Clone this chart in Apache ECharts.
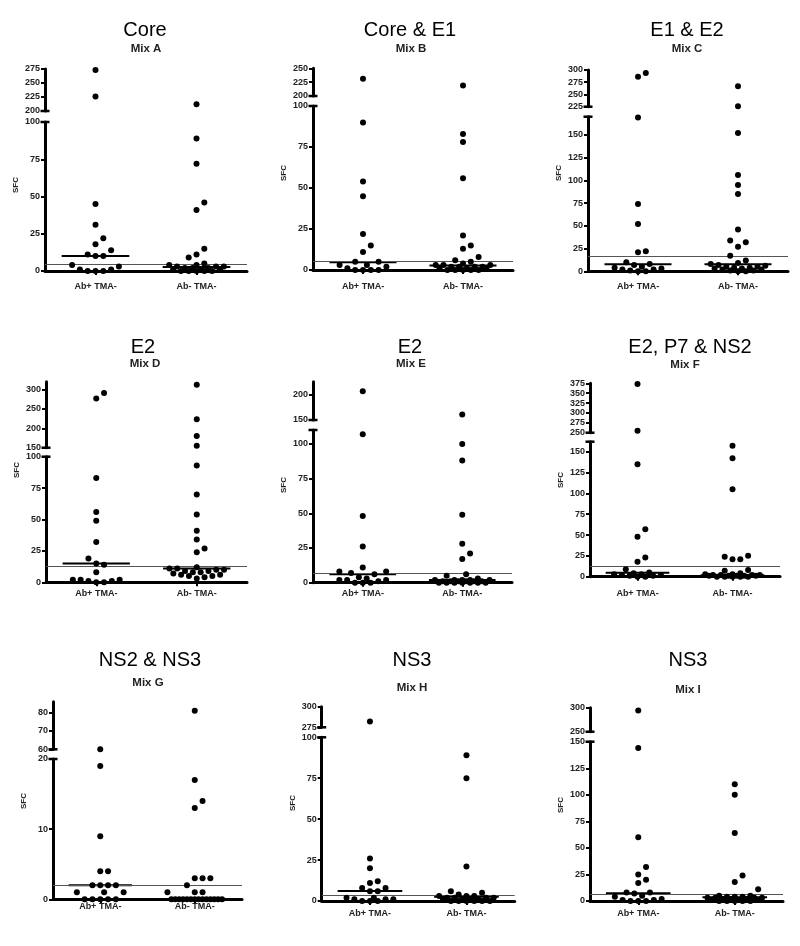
<!DOCTYPE html>
<html><head><meta charset="utf-8">
<script src="https://cdn.jsdelivr.net/npm/echarts@6/dist/echarts.min.js"></script>
<style>html,body{margin:0;padding:0;background:#fff}#c{width:800px;height:946px}</style>
</head><body><div id="c"></div>
<script>
// ---------------- DATA ----------------
const categories = ['Ab+ TMA-', 'Ab- TMA-'];
const panelTitles = ['Core', 'Core & E1', 'E1 & E2', 'E2', 'E2', 'E2, P7 & NS2', 'NS2 & NS3', 'NS3', 'NS3'];
const mixLabels = ['Mix A', 'Mix B', 'Mix C', 'Mix D', 'Mix E', 'Mix F', 'Mix G', 'Mix H', 'Mix I'];
const yAxisName = 'SFC';

const abPosA = [273, 226, 45, 31, 22, 18, 14, 11, 10, 10, 4, 3, 1, 1, 0, 0, 0];
const abNegA = [212, 89, 72, 46, 41, 15, 11, 9, 5, 4, 4, 3, 3, 3, 2, 2, 2, 1, 1, 1, 0, 0, 0, 0, 0];
const abPosB = [231, 90, 54, 45, 22, 15, 11, 5, 5, 3, 3, 2, 1, 0, 0, 0, 0];
const abNegB = [219, 83, 78, 56, 21, 15, 13, 8, 6, 5, 4, 3, 3, 3, 2, 2, 2, 2, 1, 1, 1, 0, 0, 0, 0, 0];
const abPosC = [294, 286, 169, 74, 52, 22, 21, 10, 8, 7, 5, 4, 3, 2, 2, 1, 0, 0];
const abNegC = [267, 226, 152, 106, 95, 85, 46, 34, 32, 27, 17, 12, 9, 8, 7, 6, 5, 5, 4, 4, 3, 3, 2, 2, 1, 1, 0, 0];
const abPosD = [291, 277, 83, 56, 49, 32, 19, 15, 14, 8, 2, 2, 2, 1, 1, 0, 0];
const abNegD = [312, 223, 180, 155, 93, 70, 54, 41, 34, 27, 24, 12, 11, 11, 10, 10, 9, 9, 8, 8, 7, 6, 6, 5, 5, 4, 3];
const abPosE = [207, 107, 48, 26, 11, 8, 8, 7, 6, 4, 3, 2, 2, 2, 1, 0, 0, 0];
const abNegE = [161, 100, 88, 49, 28, 21, 17, 6, 5, 3, 2, 2, 2, 2, 2, 1, 1, 1, 1, 1, 1, 0, 0, 0, 0, 0, 0, 0];
const abPosF = [373, 255, 135, 57, 48, 23, 18, 9, 5, 4, 3, 3, 2, 2, 1, 1, 0, 0];
const abNegF = [157, 142, 105, 25, 24, 21, 21, 8, 7, 4, 3, 3, 2, 2, 2, 2, 1, 1, 1, 1, 1, 0, 0, 0, 0, 0];
const abPosG = [60, 19, 9, 4, 4, 2, 2, 2, 2, 1, 1, 1, 0, 0, 0, 0, 0];
const abNegG = [81, 17, 14, 13, 3, 3, 3, 2, 1, 1, 1, 0, 0, 0, 0, 0, 0, 0, 0, 0, 0, 0, 0, 0, 0];
const abPosH = [282, 26, 20, 12, 11, 8, 8, 6, 6, 2, 2, 1, 1, 1, 0, 0, 0];
const abNegH = [89, 75, 21, 6, 5, 4, 3, 3, 3, 2, 2, 2, 2, 1, 1, 1, 1, 0, 0, 0, 0, 0, 0];
const abPosI = [294, 144, 60, 32, 25, 20, 17, 8, 8, 7, 5, 4, 2, 1, 1, 0, 0, 0];
const abNegI = [110, 100, 64, 24, 18, 11, 5, 5, 4, 4, 4, 3, 3, 3, 3, 2, 2, 2, 1, 1, 1, 0, 0, 0, 0, 0];

const abPos = [abPosA, abPosB, abPosC, abPosD, abPosE, abPosF, abPosG, abPosH, abPosI];
const abNeg = [abNegA, abNegB, abNegC, abNegD, abNegE, abNegF, abNegG, abNegH, abNegI];

// medians [Ab+, Ab-] and threshold line per panel
const medians = [[10, 2.7], [4.7, 2.8], [7.7, 7.7], [15, 11], [6, 2], [4.8, 1.6], [2, 0], [6.1, 2.6], [7.2, 3.5]];
const thresholds = [4.5, 5.1, 16.5, 13, 6.7, 12, 2, 3.3, 6.3];

// broken y axis: lower segment [0, max], upper segment [min, max]
const lowerMax = [100, 100, 170, 100, 110, 162, 20, 100, 150];
const upperRange = [[200, 275], [200, 250], [225, 300], [150, 320], [150, 226], [250, 375], [60, 86], [275, 300], [250, 300]];
const lowerTicks = [
  [0, 25, 50, 75, 100], [0, 25, 50, 75, 100], [0, 25, 50, 75, 100, 125, 150],
  [0, 25, 50, 75, 100], [0, 25, 50, 75, 100], [0, 25, 50, 75, 100, 125, 150],
  [0, 10, 20], [0, 25, 50, 75, 100], [0, 25, 50, 75, 100, 125, 150]
];
const upperTicks = [
  [200, 225, 250, 275], [200, 225, 250], [225, 250, 275, 300],
  [150, 200, 250, 300], [150, 200], [250, 275, 300, 325, 350, 375],
  [60, 70, 80], [275, 300], [250, 300]
];

// ---------------- LAYOUT (pixels) ----------------
const layout = [
  {left: 45,  width: 202, up: [69, 111],    lo: [122, 271],   title: [145, 30],  mix: [146, 49],  sfcY: 185, labelY: 287},
  {left: 313, width: 200, up: [68.3, 96],   lo: [106, 270],   title: [410, 30],  mix: [411, 49],  sfcY: 173, labelY: 287},
  {left: 588, width: 200, up: [70, 106.7],  lo: [116.7, 271.3], title: [687, 30], mix: [687, 49], sfcY: 173, labelY: 287},
  {left: 46,  width: 201, up: [381.7, 447.7], lo: [456.7, 582.3], title: [143, 347], mix: [145, 364], sfcY: 470, labelY: 594},
  {left: 313, width: 199, up: [381.7, 420], lo: [430, 582.7], title: [410, 347], mix: [411, 364], sfcY: 485, labelY: 594},
  {left: 590, width: 190, up: [383.3, 432.7], lo: [441.7, 576.7], title: [690, 347], mix: [685, 365], sfcY: 480, labelY: 594},
  {left: 53,  width: 189, up: [701.7, 749.3], lo: [759, 899.3], title: [150, 660], mix: [148, 683], sfcY: 801, labelY: 907},
  {left: 321.7, width: 193, up: [706.7, 727.3], lo: [737.3, 901], title: [412, 660], mix: [412, 688], sfcY: 803, labelY: 914},
  {left: 590, width: 193, up: [707.7, 731.7], lo: [741.7, 901], title: [688, 660], mix: [688, 690], sfcY: 805, labelY: 914}
];
const FONT = '"Liberation Sans", Arial, Helvetica, sans-serif';
const DOT = 6, DOT_GAP = 7.8, MAX_HALF = 31, MEDIAN_HALF = 0.335;

// ---------------- OPTION ----------------
const chart = echarts.init(document.getElementById('c'), null, {renderer: 'canvas'});
const option = {
  animation: false,
  backgroundColor: '#fff',
  textStyle: {fontFamily: FONT},
  grid: [], xAxis: [], yAxis: [], series: [], graphic: []
};

function yAxisCommon(ticks) {
  return {
    type: 'value', splitLine: {show: false},
    axisTick: {show: true, customValues: ticks, length: 4, inside: false, lineStyle: {color: '#000', width: 2}},
    axisLabel: {show: true, customValues: ticks, margin: 5, fontSize: 9, fontWeight: 'bold', color: '#222', fontFamily: FONT}
  };
}

const scatterIdx = [];
layout.forEach((L, i) => {
  const gUp = 2 * i, gLo = 2 * i + 1;
  option.grid.push({left: L.left, top: L.up[0], width: L.width, height: L.up[1] - L.up[0]});
  option.grid.push({left: L.left, top: L.lo[0], width: L.width, height: L.lo[1] - L.lo[0]});
  option.xAxis.push({gridIndex: gUp, type: 'value', min: 0, max: 2, show: false});
  option.xAxis.push({
    gridIndex: gLo, type: 'value', min: 0, max: 2, splitLine: {show: false},
    axisLine: {show: true, onZero: false, lineStyle: {color: '#000', width: 3}},
    axisTick: {show: true, customValues: [0.5, 1.5], length: 4, lineStyle: {color: '#000', width: 2}},
    axisLabel: {show: true, customValues: [0.5, 1.5], formatter: v => categories[Math.floor(v)],
      margin: L.labelY - L.lo[1] - 4.5, fontSize: 9, fontWeight: 'bold', color: '#222', fontFamily: FONT}
  });
  option.yAxis.push(Object.assign(yAxisCommon(upperTicks[i]), {
    gridIndex: gUp, min: upperRange[i][0], max: upperRange[i][1],
    axisLine: {show: true, onZero: false, symbol: ['rect', 'none'], symbolSize: [9, 2.5], lineStyle: {color: '#000', width: 3}}
  }));
  option.yAxis.push(Object.assign(yAxisCommon(lowerTicks[i]), {
    gridIndex: gLo, min: 0, max: lowerMax[i],
    axisLine: {show: true, onZero: false, symbol: ['none', 'rect'], symbolSize: [9, 2.5], lineStyle: {color: '#000', width: 3}}
  }));

  const up = [], lo = [];
  [abPos[i], abNeg[i]].forEach((vals, gi) => {
    vals.forEach(v => (v > lowerMax[i] ? up : lo).push([gi + 0.5, v]));
  });
  scatterIdx.push(option.series.length);
  option.series.push({type: 'scatter', xAxisIndex: gUp, yAxisIndex: gUp, data: up, symbolSize: DOT,
    itemStyle: {color: '#000', opacity: 1}, silent: true, z: 5});
  option.series.push({type: 'scatter', xAxisIndex: gLo, yAxisIndex: gLo, data: lo, symbolSize: DOT,
    itemStyle: {color: '#000', opacity: 1}, silent: true, z: 5,
    markLine: {silent: true, symbol: ['none', 'none'], label: {show: false}, animation: false,
      lineStyle: {color: '#555', width: 1, type: 'solid'}, data: [{yAxis: thresholds[i]}]}});
  medians[i].forEach((m, gi) => {
    option.series.push({type: 'line', xAxisIndex: gLo, yAxisIndex: gLo, symbol: 'none', silent: true, z: 4,
      lineStyle: {color: '#000', width: 2},
      data: [[gi + 0.5 - MEDIAN_HALF, m], [gi + 0.5 + MEDIAN_HALF, m]]});
  });

  option.graphic.push({type: 'text', x: L.title[0], y: L.title[1], silent: true,
    style: {text: panelTitles[i], fill: '#000', fontSize: 20, fontFamily: FONT, align: 'center', verticalAlign: 'middle'}});
  option.graphic.push({type: 'text', x: L.mix[0], y: L.mix[1], silent: true,
    style: {text: mixLabels[i], fill: '#222', fontSize: 11.5, fontWeight: 'bold', fontFamily: FONT, align: 'center', verticalAlign: 'middle'}});
  option.graphic.push({type: 'text', x: L.left - 29, y: L.sfcY, rotation: Math.PI / 2, silent: true,
    style: {text: yAxisName, fill: '#222', fontSize: 8, fontWeight: 'bold', fontFamily: FONT, align: 'center', verticalAlign: 'middle'}});
});

chart.setOption(option);

// ---------------- beeswarm spread using the library's scales ----------------
const fullSlots = [], halfSlots = [];
for (let k = 0; k * DOT_GAP <= MAX_HALF + 0.01; k++) {
  if (k === 0) fullSlots.push(0); else fullSlots.push(k * DOT_GAP, -k * DOT_GAP);
}
for (let k = 0; k * DOT_GAP / 2 <= MAX_HALF + 0.01; k++) {
  if (k === 0) halfSlots.push(0); else halfSlots.push(k * DOT_GAP / 2, -k * DOT_GAP / 2);
}
layout.forEach((L, i) => {
  const gUp = 2 * i, gLo = 2 * i + 1;
  const pxPerX = chart.convertToPixel({gridIndex: gLo}, [1, 0])[0] - chart.convertToPixel({gridIndex: gLo}, [0, 0])[0];
  const up = [], lo = [];
  [abPos[i], abNeg[i]].forEach((vals, gi) => {
    const c = gi + 0.5;
    const pts = vals.map(v => {
      const g = v > lowerMax[i] ? gUp : gLo;
      return {v, g, py: chart.convertToPixel({gridIndex: g}, [c, v])[1]};
    }).sort((a, b) => b.py - a.py);
    const placed = [];
    const minDist = (ox, py) => {
      let m = Infinity;
      placed.forEach(q => { const d = Math.hypot(q.ox - ox, q.py - py); if (d < m) m = d; });
      return m;
    };
    pts.forEach(p => {
      let best = null;
      for (const s of fullSlots) { if (minDist(s, p.py) >= DOT_GAP * 0.97) { best = s; break; } }
      if (best === null) {
        let bd = -1;
        for (const s of halfSlots) { const d = minDist(s, p.py); if (d > bd + 0.01) { bd = d; best = s; } }
      }
      placed.push({ox: best, py: p.py});
      (p.g === gUp ? up : lo).push([c + best / pxPerX, p.v]);
    });
  });
  option.series[scatterIdx[i]].data = up;
  option.series[scatterIdx[i] + 1].data = lo;
});
chart.setOption(option);
</script>
</body></html>
